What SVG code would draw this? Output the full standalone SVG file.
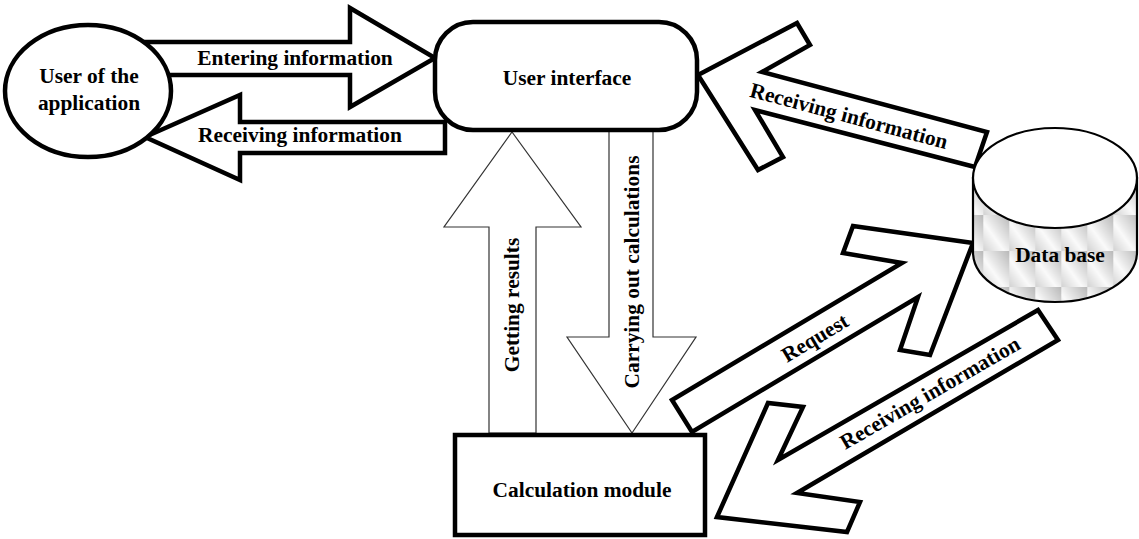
<svg xmlns="http://www.w3.org/2000/svg" width="1139" height="539" viewBox="0 0 1139 539">
<style>
text{font-family:"Liberation Serif","Times New Roman",serif;font-weight:bold;font-size:21.4px;fill:#000;}
.thick{fill:#fff;stroke:#000;stroke-width:4.5;stroke-linejoin:miter;}
.thin{fill:#fff;stroke:#333;stroke-width:1.2;}
.c{text-anchor:middle;}
</style>
<defs>
<linearGradient id="cellg" x1="0" y1="1" x2="1" y2="0">
<stop offset="0" stop-color="#d2d2d2"/>
<stop offset="0.4" stop-color="#fafafa"/>
<stop offset="0.55" stop-color="#e8e8e8"/>
<stop offset="1" stop-color="#b8b8b8"/>
</linearGradient>
<pattern id="chk" patternUnits="userSpaceOnUse" x="983.3" y="215" width="26" height="36">
<rect width="26" height="36" fill="url(#cellg)"/>
</pattern>
</defs>
<g id="connectors">
<polygon class="thick" points="140,42 350,42 350,8 435,58 350,107 350,75 140,75"/>
<text class="c" x="295" y="65">Entering information</text>
<polygon class="thick" points="145,137 240,95 240,122 445,122 445,153 240,153 240,180"/>
<text class="c" x="300" y="142">Receiving information</text>
<polygon class="thin" points="489,433 489,227 444,227 512,132 581,227 536,227 536,433"/>
<text class="c" transform="translate(519,305) rotate(-90)">Getting results</text>
<polygon class="thin" points="609,130 609,337 567,337 632,433 696,337 653,337 653,130"/>
<text class="c" transform="translate(639,272) rotate(-90)">Carrying out calculations</text>
<polygon class="thick" points="698,75 797,23 810,45 762,72 987,132 975,167 755,110 783,157 758,170"/>
<text class="c" transform="translate(849,116) rotate(15)" dy="7">Receiving information</text>
<polygon class="thick" points="973,243 853,226 843,253 902,263 672,400 692,432 918,297 900,350 930,355"/>
<text class="c" transform="translate(815,338) rotate(-31)" dy="7">Request</text>
<polygon class="thick" points="717,517 768,403 803,407 778,460 1038,310 1058,340 797,493 860,502 847,532"/>
<text class="c" transform="translate(930,393) rotate(-30)" dy="7">Receiving information</text>
</g>
<g id="user">
<ellipse class="thick" cx="88" cy="91" rx="83" ry="66"/>
<text class="c" x="89" y="83">User of the</text>
<text class="c" x="89" y="110">application</text>
</g>
<g id="ui">
<rect class="thick" x="435" y="22" width="262" height="108" rx="38" ry="38"/>
<text class="c" x="567" y="85">User interface</text>
</g>
<g id="calc">
<rect class="thick" x="455" y="435" width="250" height="100"/>
<text class="c" x="582" y="497">Calculation module</text>
</g>
<g id="db">
<path d="M973,178 L973,252 A82,50 0 0 0 1137,252 L1137,178 Z" fill="url(#chk)" stroke="#000" stroke-width="2.2"/>
<ellipse cx="1055" cy="178" rx="82" ry="50" fill="#fff" stroke="#000" stroke-width="2.2"/>
<text class="c" x="1060" y="262">Data base</text>
</g>
</svg>
